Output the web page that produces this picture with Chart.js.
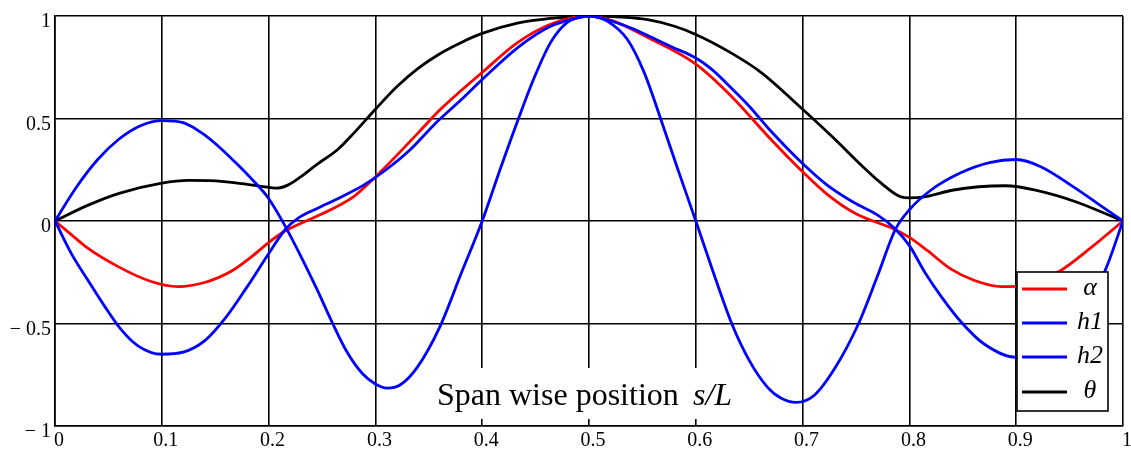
<!DOCTYPE html>
<html><head><meta charset="utf-8">
<script src="https://cdn.jsdelivr.net/npm/chart.js@4"></script>
<style>html,body{margin:0;padding:0;background:#fff;overflow:hidden}#wrap{width:1131px;height:452px;position:relative}</style>
</head><body><div id="wrap"><canvas id="c"></canvas></div>
<script>
// Tick labels
const xTickLabels = ['0','0.1','0.2','0.3','0.4','0.5','0.6','0.7','0.8','0.9','1'];
const yTickLabels = ['\u2212 1','\u2212 0.5','0','0.5','1'];
const axisTitle = 'Span wise position';
const axisTitleVar = 's/L';
const seriesNames = ['\u03B1','h1','h2','\u03B8'];

// alpha (red)
const alphaX = [0,0.015,0.03,0.06,0.09,0.115,0.14,0.165,0.185,0.2,0.215,0.235,0.26,0.28,0.3,0.32,0.34,0.36,0.38,0.4,0.433,0.464,0.5,0.523,0.555,0.6,0.633,0.67,0.7,0.723,0.75,0.786,0.8,0.817,0.839,0.861,0.886,0.905,0.939,0.97,1];
const alphaY = [0,-0.065,-0.13,-0.225,-0.295,-0.32,-0.30,-0.245,-0.17,-0.105,-0.05,0.0,0.06,0.12,0.215,0.32,0.43,0.54,0.635,0.725,0.87,0.96,1.0,0.975,0.895,0.765,0.61,0.40,0.24,0.13,0.035,-0.04,-0.08,-0.145,-0.235,-0.29,-0.32,-0.318,-0.25,-0.13,0];

// h1 (blue)
const h1X = [0,0.02,0.04,0.06,0.08,0.1,0.12,0.14,0.155,0.17,0.185,0.2,0.215,0.23,0.245,0.26,0.273,0.288,0.3,0.311,0.323,0.339,0.36,0.38,0.4,0.417,0.434,0.448,0.464,0.48,0.5,0.517,0.536,0.552,0.567,0.583,0.6,0.617,0.634,0.65,0.667,0.68,0.694,0.711,0.73,0.752,0.77,0.787,0.8,0.82,0.848,0.875,0.9,0.923,0.954,0.979,1];
const h1Y = [0,0.165,0.30,0.40,0.465,0.49,0.48,0.42,0.355,0.28,0.20,0.11,-0.02,-0.17,-0.33,-0.50,-0.635,-0.745,-0.795,-0.815,-0.80,-0.715,-0.52,-0.26,0,0.255,0.5,0.69,0.87,0.97,1.0,0.975,0.885,0.72,0.5,0.255,0,-0.26,-0.505,-0.68,-0.81,-0.865,-0.885,-0.85,-0.72,-0.505,-0.27,-0.04,0.055,0.15,0.235,0.285,0.30,0.265,0.165,0.075,0];

// h2 (blue)
const h2X = [0,0.016,0.031,0.047,0.062,0.078,0.1,0.12,0.14,0.16,0.18,0.2,0.215,0.228,0.245,0.267,0.289,0.31,0.333,0.355,0.38,0.4,0.433,0.464,0.489,0.5,0.523,0.54,0.555,0.575,0.6,0.615,0.633,0.65,0.67,0.7,0.723,0.748,0.77,0.786,0.8,0.815,0.83,0.848,0.87,0.9,0.925,0.95,0.97,0.985,1];
const h2Y = [0,-0.165,-0.29,-0.42,-0.53,-0.61,-0.65,-0.64,-0.585,-0.47,-0.32,-0.16,-0.045,0.015,0.06,0.115,0.175,0.25,0.35,0.47,0.59,0.69,0.845,0.95,0.99,1.0,0.972,0.94,0.905,0.855,0.795,0.74,0.65,0.56,0.44,0.28,0.175,0.09,0.03,-0.035,-0.12,-0.255,-0.37,-0.49,-0.60,-0.665,-0.63,-0.53,-0.39,-0.22,0];

// theta (black)
const thetaX = [0,0.03,0.06,0.1,0.125,0.15,0.175,0.195,0.207,0.218,0.23,0.245,0.265,0.28,0.3,0.32,0.34,0.36,0.38,0.4,0.433,0.464,0.5,0.53,0.555,0.58,0.6,0.633,0.661,0.7,0.73,0.755,0.77,0.786,0.792,0.8,0.814,0.84,0.865,0.89,0.92,0.955,1];
const thetaY = [0,0.075,0.135,0.185,0.198,0.196,0.182,0.168,0.16,0.175,0.215,0.275,0.35,0.43,0.545,0.655,0.745,0.815,0.87,0.915,0.965,0.988,1.0,0.995,0.982,0.95,0.91,0.82,0.725,0.545,0.40,0.272,0.2,0.134,0.118,0.113,0.118,0.15,0.167,0.172,0.148,0.095,0];

const seriesColors = ['#ff0000','#0000ff','#0000ff','#000000'];

function pts(xs, ys){ return xs.map((x,i)=>({x:x, y:ys[i]})); }

const titlePlugin = {
  id:'inplotTitle',
  beforeDatasetsDraw(chart){
    const ctx = chart.ctx;
    ctx.save();
    ctx.fillStyle = '#fff';
    ctx.fillRect(430, 368, 315, 51);
    ctx.fillStyle = '#000';
    ctx.textBaseline = 'alphabetic';
    ctx.textAlign = 'left';
    ctx.font = '32px "Liberation Serif"';
    ctx.fillText(axisTitle, 437, 405);
    ctx.font = 'italic 32px "Liberation Serif"';
    ctx.fillText(axisTitleVar, 693, 405);
    ctx.restore();
  }
};

const legendPlugin = {
  id:'boxLegend',
  afterDatasetsDraw(chart){
    const ctx = chart.ctx;
    ctx.save();
    const bx = 1017, by = 272, bw = 91, bh = 139;
    ctx.fillStyle = '#fff';
    ctx.fillRect(bx, by, bw, bh);
    ctx.strokeStyle = '#000';
    ctx.lineWidth = 1.6;
    ctx.strokeRect(bx, by, bw, bh);
    const rows = [289, 323, 357, 392];
    chart.data.datasets.forEach((ds, i) => {
      ctx.strokeStyle = ds.borderColor;
      ctx.lineWidth = 2.8;
      ctx.beginPath();
      ctx.moveTo(1022, rows[i]);
      ctx.lineTo(1067, rows[i]);
      ctx.stroke();
      ctx.fillStyle = '#000';
      ctx.font = 'italic 26px "Liberation Serif"';
      ctx.textAlign = 'center';
      ctx.textBaseline = 'middle';
      ctx.fillText(ds.label, 1090, rows[i] - 1);
    });
    ctx.restore();
  }
};

new Chart(document.getElementById('c'), {
  type: 'line',
  data: {
    datasets: [
      {label: seriesNames[0], data: pts(alphaX, alphaY), borderColor: seriesColors[0], order: 3},
      {label: seriesNames[1], data: pts(h1X, h1Y), borderColor: seriesColors[1], order: 1},
      {label: seriesNames[2], data: pts(h2X, h2Y), borderColor: seriesColors[2], order: 2},
      {label: seriesNames[3], data: pts(thetaX, thetaY), borderColor: seriesColors[3], order: 4}
    ].map(d => Object.assign(d, {borderWidth: 2.8, pointRadius: 0, fill: false, cubicInterpolationMode: 'monotone'}))
  },
  options: {
    responsive: true,
    maintainAspectRatio: false,
    devicePixelRatio: 1,
    animation: false,
    layout: {padding: {top: 14, right: 8, left: 0, bottom: 0}},
    plugins: {legend: {display: false}, tooltip: {enabled: false}},
    scales: {
      x: {
        type: 'linear', min: 0, max: 1,
        afterFit(s){ s.height = 26; },
        ticks: {
          stepSize: 0.1, autoSkip: false, maxRotation: 0, padding: 3, labelOffset: 4,
          color: '#000', font: {family: 'Liberation Serif', size: 20},
          callback: (v) => xTickLabels[Math.round(v * 10)]
        },
        grid: {color: '#000', lineWidth: 1.6, drawTicks: false},
        border: {color: '#000', width: 1.6}
      },
      y: {
        type: 'linear', min: -1, max: 1,
        afterFit(s){ s.width = 55; },
        ticks: {
          stepSize: 0.5, autoSkip: false, padding: 4, labelOffset: 6,
          color: '#000', font: {family: 'Liberation Serif', size: 20},
          callback: (v) => yTickLabels[Math.round(v * 2) + 2]
        },
        grid: {color: '#000', lineWidth: 1.6, drawTicks: false},
        border: {color: '#000', width: 1.6}
      }
    }
  },
  plugins: [titlePlugin, legendPlugin]
});
</script>
</body></html>
